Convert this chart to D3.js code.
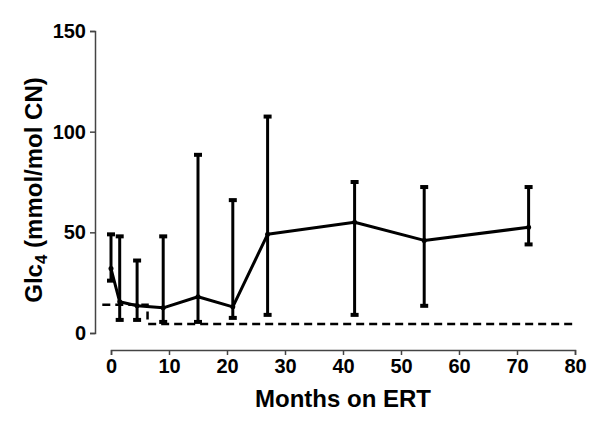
<!DOCTYPE html>
<html><head><meta charset="utf-8">
<script src="https://cdn.jsdelivr.net/npm/d3@7"></script>
<style>body{margin:0;background:#fff}svg{display:block}text{font-family:"Liberation Sans",Arial,sans-serif;font-weight:bold;fill:#000}</style>
</head><body><svg id="c" width="600" height="429"></svg>
<script>
const months = [0, 1.5, 4.5, 9, 15, 21, 27, 42, 54, 72];
const meanVals = [32, 15.5, 13.5, 12.5, 18, 13, 49, 55, 46, 52.5];
const upperVals = [49, 48, 36, 48, 88.5, 66, 107.5, 75, 72.5, 72.5];
const lowerVals = [26, 6.5, 6.5, 5.5, 5.5, 7.5, 9, 9, 13.5, 44];
const refX = [-1.5, 6.3, 6.3, 80];
const refY = [14, 14, 4.5, 4.5];
const xTicks = [0, 10, 20, 30, 40, 50, 60, 70, 80];
const yTicks = [0, 50, 100, 150];

const svg = d3.select("#c");
const x = d3.scaleLinear().domain([0, 80]).range([111, 575]);
const y = d3.scaleLinear().domain([0, 150]).range([333, 31]);

// axes
const yAxis = svg.append("g").attr("transform", "translate(95,0)")
  .call(d3.axisLeft(y).tickValues(yTicks).tickSize(5).tickPadding(4));
const xAxis = svg.append("g").attr("transform", "translate(0,350)")
  .call(d3.axisBottom(x).tickValues(xTicks).tickSize(5).tickPadding(4));
[yAxis, xAxis].forEach(a => {
  a.select(".domain").attr("stroke", "#444").attr("stroke-width", 1.5);
  a.selectAll(".tick line").attr("stroke", "#444").attr("stroke-width", 1.5);
  a.selectAll("text").style("font-size", "20px").attr("fill", "#000");
});

// reference dashed line
const refData = refX.map((v, i) => [v, refY[i]]);
svg.append("path").datum(refData)
  .attr("d", d3.line().x(d => x(d[0])).y(d => y(d[1])))
  .attr("fill", "none").attr("stroke", "#000").attr("stroke-width", 2.5)
  .attr("stroke-dasharray", "8,5");

// error bars
const data = months.map((m, i) => ({m, v: meanVals[i], hi: upperVals[i], lo: lowerVals[i]}));
const eb = svg.append("g");
eb.selectAll("line.v").data(data).join("line")
  .attr("x1", d => x(d.m)).attr("x2", d => x(d.m))
  .attr("y1", d => y(d.hi)).attr("y2", d => y(d.lo))
  .attr("stroke", "#000").attr("stroke-width", 3);
["hi", "lo"].forEach(k => {
  eb.selectAll("rect." + k).data(data).join("rect")
    .attr("x", d => x(d.m) - 4).attr("y", d => y(d[k]) - 2)
    .attr("width", 8).attr("height", 4).attr("fill", "#000");
});

// mean line
svg.append("path").datum(data)
  .attr("d", d3.line().x(d => x(d.m)).y(d => y(d.v)))
  .attr("fill", "none").attr("stroke", "#000").attr("stroke-width", 3)
  .attr("stroke-linejoin", "round");
svg.append("g").selectAll("circle").data(data).join("circle")
  .attr("cx", d => x(d.m)).attr("cy", d => y(d.v)).attr("r", 2.5).attr("fill", "#000");

// titles
svg.append("text").attr("x", 343).attr("y", 407).attr("text-anchor", "middle")
  .style("font-size", "24px").text("Months on ERT");
const yt = svg.append("text").attr("transform", "translate(42,190) rotate(-90)")
  .attr("text-anchor", "middle").style("font-size", "24px");
yt.append("tspan").text("Glc");
yt.append("tspan").attr("dy", 5).style("font-size", "17px").text("4");
yt.append("tspan").attr("dy", -5).text(" (mmol/mol CN)");
</script></body></html>
